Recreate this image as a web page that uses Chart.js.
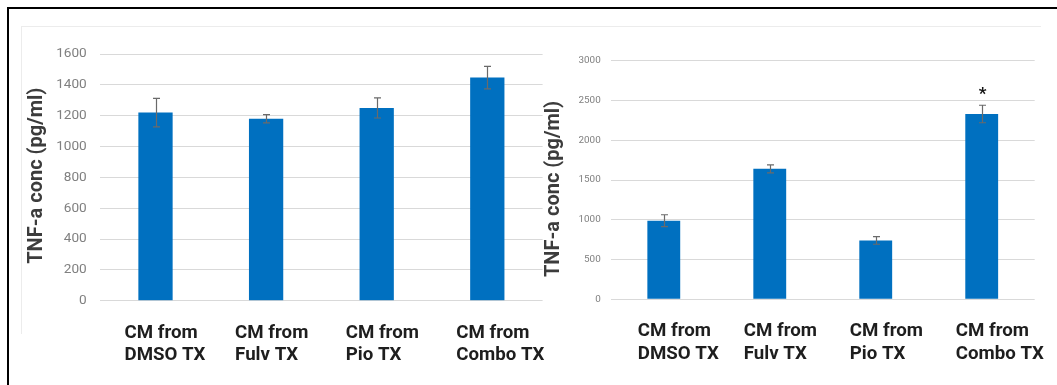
<!DOCTYPE html>
<html>
<head>
<meta charset="utf-8">
<script src="https://cdn.jsdelivr.net/npm/chart.js@4.4.1/dist/chart.umd.min.js"></script>
<style>
  html, body { margin: 0; padding: 0; background: #fff; }
  body { position: relative; width: 1057px; height: 385px; overflow: hidden; }
  #frame { position: absolute; left: 7px; top: 7px; width: 1060px; height: 390px;
           border-top: 2px solid #000; border-left: 2px solid #000; }
  #panel { position: absolute; left: 21px; top: 26px; width: 1019px; height: 307px;
           border-top: 1px solid #ececec; border-left: 1px solid #ececec; }
  canvas { position: absolute; }
  #leftChart { left: 20px; top: 27px; }
  #rightChart { left: 540px; top: 27px; }
</style>
</head>
<body>
<div id="frame"></div>
<div id="panel"></div>
<canvas id="leftChart" width="525" height="358"></canvas>
<canvas id="rightChart" width="517" height="358"></canvas>
<script>
// Treatment groups shared by both panels
const categories = [
  ['CM from', 'DMSO TX'],
  ['CM from', 'Fulv TX'],
  ['CM from', 'Pio TX'],
  ['CM from', 'Combo TX']
];
const axisTitle = 'TNF-a conc (pg/ml)';

// Left panel: mean TNF-a and error
const leftValues = [1220, 1180, 1250, 1447];
const leftErrors = [92, 27, 65, 73];
const leftMarks = ['', '', '', ''];
const leftTicks = ['0', '200', '400', '600', '800', '1000', '1200', '1400', '1600'];

// Right panel: mean TNF-a and error
const rightValues = [988, 1640, 740, 2330];
const rightErrors = [75, 50, 48, 110];
const rightMarks = ['', '', '', '*'];
const rightTicks = ['0', '500', '1000', '1500', '2000', '2500', '3000'];

// Draws the error whiskers and significance marks on top of the bars
const errorBarPlugin = {
  id: 'errorBars',
  afterDatasetsDraw(chart, args, opts) {
    const { ctx } = chart;
    const yScale = chart.scales.y;
    const ds = chart.data.datasets[0];
    const meta = chart.getDatasetMeta(0);
    ctx.save();
    ctx.strokeStyle = opts.color;
    ctx.lineWidth = opts.lineWidth;
    meta.data.forEach((bar, i) => {
      const v = ds.data[i];
      const e = ds.errors[i];
      const top = yScale.getPixelForValue(v + e);
      const bot = yScale.getPixelForValue(v - e);
      const x = Math.round(bar.x) + 0.5;
      ctx.beginPath();
      ctx.moveTo(x, top); ctx.lineTo(x, bot);
      ctx.moveTo(x - opts.cap, top); ctx.lineTo(x + opts.cap, top);
      ctx.moveTo(x - opts.cap, bot); ctx.lineTo(x + opts.cap, bot);
      ctx.stroke();
      const mark = ds.marks[i];
      if (mark) {
        ctx.fillStyle = '#111';
        ctx.font = 'bold 17px Roboto';
        ctx.textAlign = 'center';
        ctx.textBaseline = 'alphabetic';
        ctx.fillText(mark, x, top - 6);
      }
    });
    ctx.restore();
  }
};

// Rotated value-axis title, placed beside the tick labels
const axisTitlePlugin = {
  id: 'axisTitle',
  afterDraw(chart, args, opts) {
    const { ctx, chartArea } = chart;
    ctx.save();
    ctx.translate(opts.x, (chartArea.top + chartArea.bottom) / 2 + opts.dy);
    ctx.rotate(-Math.PI / 2);
    ctx.fillStyle = '#3c3c3c';
    ctx.font = 'bold 20px Roboto';
    ctx.textAlign = 'center';
    ctx.textBaseline = 'middle';
    ctx.fillText(opts.text, 0, 0);
    ctx.restore();
  }
};

function buildChart(canvasId, values, errors, marks, tickLabels, cfg) {
  const step = Number(tickLabels[1]) - Number(tickLabels[0]);
  const yMax = Number(tickLabels[tickLabels.length - 1]);
  return new Chart(document.getElementById(canvasId), {
    type: 'bar',
    data: {
      labels: categories,
      datasets: [{
        data: values,
        errors: errors,
        marks: marks,
        backgroundColor: '#0070C0',
        borderWidth: 0,
        categoryPercentage: 1,
        barPercentage: 0.31
      }]
    },
    plugins: [errorBarPlugin, axisTitlePlugin],
    options: {
      responsive: false,
      animation: false,
      devicePixelRatio: 1,
      layout: { padding: { left: 0, right: cfg.padRight, top: cfg.padTop, bottom: 0 } },
      plugins: {
        legend: { display: false },
        tooltip: { enabled: false },
        errorBars: { color: '#6a6a6a', lineWidth: 1.2, cap: 3.5 },
        axisTitle: { text: axisTitle, x: cfg.titleX, dy: cfg.titleDy }
      },
      scales: {
        x: {
          offset: true,
          grid: { display: false, drawTicks: false },
          border: { display: false },
          ticks: {
            align: 'start',
            labelOffset: cfg.labelOffset,
            padding: 21,
            maxRotation: 0,
            autoSkip: false,
            color: '#1e1e1e',
            font: { family: 'Roboto', weight: 'bold', size: 18.7, lineHeight: 1.2 }
          },
          afterFit(scale) {
            scale.height = cfg.xHeight;
            scale.paddingLeft = 0;
            scale.paddingRight = 0;
          }
        },
        y: {
          min: 0,
          max: yMax,
          grid: { color: '#d9d9d9', lineWidth: 1, drawTicks: false },
          border: { display: false },
          ticks: {
            stepSize: step,
            padding: cfg.tickPad,
            color: '#808080',
            font: { family: 'Roboto', size: cfg.tickSize },
            callback: (v, i) => tickLabels[i]
          },
          afterFit(scale) {
            scale.width = cfg.yWidth;
            scale.paddingTop = 0;
            scale.paddingBottom = 0;
          }
        }
      }
    }
  });
}

buildChart('leftChart', leftValues, leftErrors, leftMarks, leftTicks, {
  padRight: 2.4, padTop: 27, xHeight: 84.3, yWidth: 80.2,
  tickPad: 13.5, tickSize: 13.6, labelOffset: -31, titleX: 16.7, titleDy: -1.6
});

buildChart('rightChart', rightValues, rightErrors, rightMarks, rightTicks, {
  padRight: 22.3, padTop: 33.7, xHeight: 85.7, yWidth: 70.8,
  tickPad: 10.1, tickSize: 9.9, labelOffset: -26, titleX: 14, titleDy: 9
});
</script>
</body>
</html>
